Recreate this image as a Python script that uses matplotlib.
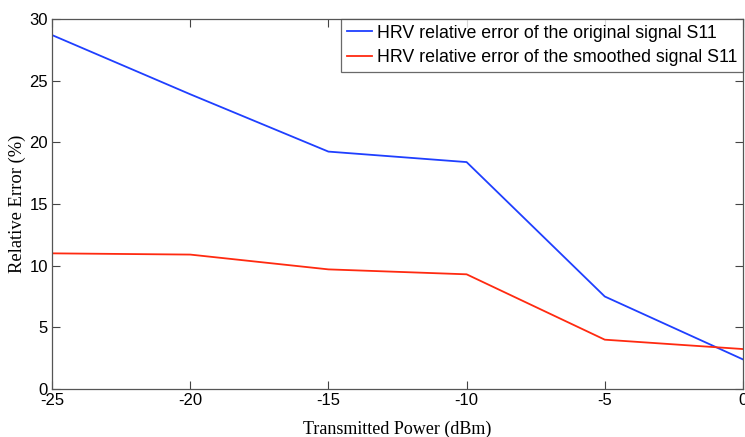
import matplotlib.pyplot as plt

plt.rcParams["axes.unicode_minus"] = False

# data
power = [-25, -20, -15, -10, -5, 0]
err_original = [28.7, 23.9, 19.25, 18.4, 7.5, 2.4]
err_smoothed = [11.0, 10.9, 9.7, 9.3, 4.0, 3.24]

fig = plt.figure(figsize=(7.45, 4.37), dpi=100)
ax = fig.add_axes([0.0698, 0.1098, 0.9275, 0.8467])

ax.plot(power, err_original, color="#1f3fff", linewidth=1.3,
        label="HRV relative error of the original signal S11")
ax.plot(power, err_smoothed, color="#ff2a10", linewidth=1.3,
        label="HRV relative error of the smoothed signal S11")

ax.set_xlim(-25, 0)
ax.set_ylim(0, 30)
ax.set_xticks(range(-25, 1, 5))
ax.set_yticks(range(0, 31, 5))
ax.tick_params(direction="in", top=True, right=True, length=6, width=0.8,
               colors="#444444", labelcolor="black", labelsize=12, pad=3)
for lab in ax.get_xticklabels() + ax.get_yticklabels():
    lab.set_family("Liberation Sans")
for sp in ax.spines.values():
    sp.set_color("#555555")
    sp.set_linewidth(0.9)

ax.set_xlabel("Transmitted Power (dBm)", family="Liberation Serif", fontsize=13, labelpad=9)
ax.set_ylabel("Relative Error (%)", family="Liberation Serif", fontsize=13.3, labelpad=2)

leg = ax.legend(loc="upper right", prop={"family": "Liberation Sans", "size": 12.8},
                frameon=True, fancybox=False, borderaxespad=0, handlelength=1.45,
                handletextpad=0.25, labelspacing=0.42, borderpad=0.32)
leg.get_frame().set_edgecolor("#444444")
leg.get_frame().set_linewidth(0.9)

plt.savefig("out.png", dpi=100)
